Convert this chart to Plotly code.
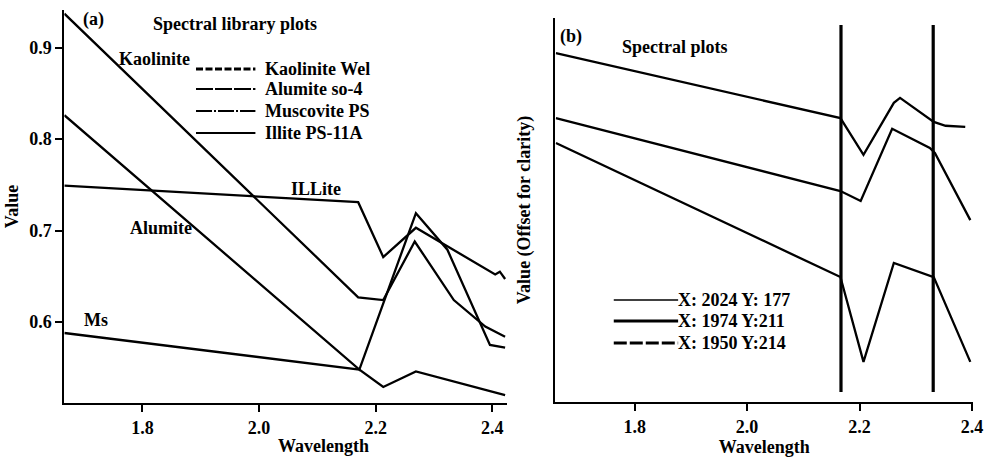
import plotly.graph_objects as go

# ---------------- Panel (a) data: spectral library ----------------
kaol_wl = [1.666, 2.170, 2.213, 2.267, 2.334, 2.388, 2.422]
kaol_val = [0.937, 0.627, 0.624, 0.688, 0.624, 0.595, 0.584]

alum_wl = [1.666, 2.172, 2.269, 2.323, 2.396, 2.422]
alum_val = [0.826, 0.548, 0.719, 0.679, 0.575, 0.572]

musc_wl = [1.666, 2.172, 2.213, 2.269, 2.422]
musc_val = [0.588, 0.548, 0.529, 0.546, 0.520]

illite_wl = [1.666, 2.170, 2.213, 2.269, 2.405, 2.413, 2.422]
illite_val = [0.749, 0.731, 0.671, 0.703, 0.652, 0.655, 0.647]

a_ticks = [1.8, 2.0, 2.2, 2.4]
a_yticks = [0.6, 0.7, 0.8, 0.9]
legend_a_names = ["Kaolinite Wel", "Alumite so-4", "Muscovite PS", "Illite PS-11A"]

# ---------------- Panel (b) data: image spectra (offset) ----------------
b_top_wl = [1.660, 2.166, 2.207, 2.261, 2.272, 2.332, 2.353, 2.388]
b_top_val = [0.913, 0.743, 0.647, 0.783, 0.796, 0.733, 0.723, 0.720]

b_mid_wl = [1.660, 2.166, 2.202, 2.258, 2.325, 2.334, 2.397]
b_mid_val = [0.743, 0.552, 0.526, 0.715, 0.665, 0.652, 0.476]

b_bot_wl = [1.660, 2.166, 2.207, 2.261, 2.332, 2.397]
b_bot_val = [0.678, 0.327, 0.105, 0.364, 0.327, 0.105]

marker_wl = [2.167, 2.331]
marker_lo = 0.026
marker_hi = 0.987

b_ticks = [1.8, 2.0, 2.2, 2.4]
legend_b_names = ["X: 2024 Y: 177", "X: 1974 Y:211", "X: 1950 Y:214"]

FONT = "Liberation Serif"
BLACK = "black"
FS = 18

fig = go.Figure()

# panel (a) curves
for wl, val in [(kaol_wl, kaol_val), (alum_wl, alum_val), (musc_wl, musc_val), (illite_wl, illite_val)]:
    fig.add_trace(go.Scatter(x=wl, y=val, mode="lines", line=dict(color=BLACK, width=2.3),
                             showlegend=False, xaxis="x", yaxis="y", hoverinfo="skip"))

# panel (b) curves
for wl, val in [(b_top_wl, b_top_val), (b_mid_wl, b_mid_val), (b_bot_wl, b_bot_val)]:
    fig.add_trace(go.Scatter(x=wl, y=val, mode="lines", line=dict(color=BLACK, width=2.3),
                             showlegend=False, xaxis="x2", yaxis="y2", hoverinfo="skip"))

# panel (b) vertical markers
for m in marker_wl:
    fig.add_trace(go.Scatter(x=[m, m], y=[marker_lo, marker_hi], mode="lines",
                             line=dict(color=BLACK, width=3.2), showlegend=False,
                             xaxis="x2", yaxis="y2", hoverinfo="skip"))

W, H = 995, 460
def px(x):
    return x / W
def py(y):
    return 1 - y / H

tickfont = dict(family=FONT, size=FS, color=BLACK, weight="bold")
axis_common = dict(showline=True, linecolor=BLACK, linewidth=2.2, ticks="outside",
                   ticklen=7, tickwidth=2, tickcolor=BLACK, showgrid=False,
                   zeroline=False, mirror=False, tickfont=tickfont)
title_font = dict(family=FONT, size=FS, color=BLACK, weight="bold")

fig.update_layout(
    width=W, height=H, autosize=False,
    margin=dict(l=0, r=0, t=0, b=0),
    paper_bgcolor="white", plot_bgcolor="white",
    font=dict(family=FONT, size=FS, color=BLACK),
    showlegend=False,
    xaxis=dict(domain=[px(65), px(512)], range=[1.666, 2.425], tickvals=a_ticks,
               ticktext=[f"{t:.1f}" for t in a_ticks], anchor="y", **axis_common),
    yaxis=dict(domain=[py(403), py(10)], range=[0.5115, 0.941], tickvals=a_yticks,
               ticktext=[f"{t:.1f}" for t in a_yticks], anchor="x",
               title=dict(text="Value", font=title_font, standoff=6),
               **axis_common),
    xaxis2=dict(domain=[px(561), px(983)], range=[1.659, 2.402], tickvals=b_ticks,
                ticktext=[f"{t:.1f}" for t in b_ticks], anchor="y2",
                title=dict(text="Wavelength", font=title_font, standoff=4),
                **axis_common),
    yaxis2=dict(domain=[py(402), py(18)], range=[0, 1.005], anchor="x2",
                showline=True, linecolor=BLACK, linewidth=2.2, ticks="", showticklabels=False,
                showgrid=False, zeroline=False,
                title=dict(text="Value (Offset for clarity)", font=title_font, standoff=18)),
)

ann_font = dict(family=FONT, size=FS, color=BLACK, weight="bold")
annotations = [
    ("(a)", 94, 20), ("Spectral library plots", 237, 24), ("Kaolinite", 156, 59),
    ("ILLite", 319, 189), ("Alumite", 163, 228), ("Ms", 97, 320),
    ("Wavelength", 327, 446),
    ("(b)", 577, 36), ("Spectral plots", 682, 47),
]
for text, x, y in annotations:
    fig.add_annotation(text=text, x=px(x), y=py(y), xref="paper", yref="paper",
                       showarrow=False, font=ann_font, xanchor="center", yanchor="middle")

# hand-drawn style legends (as in the reference)
legend_a_styles = [("7px,2.5px", 3), ("17px,2px", 1.8), ("16px,2px,2px,2px", 1.8), ("solid", 2)]
legend_a_rows = [69, 89, 111, 133]
for name, (dash, w), y in zip(legend_a_names, legend_a_styles, legend_a_rows):
    fig.add_shape(type="line", xref="paper", yref="paper", x0=px(198), x1=px(258),
                  y0=py(y), y1=py(y), line=dict(color=BLACK, width=w, dash=dash))
    fig.add_annotation(text=name, x=px(266), y=py(y), xref="paper", yref="paper",
                       showarrow=False, font=ann_font, xanchor="left", yanchor="middle")

legend_b_styles = [("solid", 1.6), ("solid", 3.2), ("13px,3px", 3.2)]
legend_b_rows = [300, 321, 343]
for name, (dash, w), y in zip(legend_b_names, legend_b_styles, legend_b_rows):
    fig.add_shape(type="line", xref="paper", yref="paper", x0=px(620), x1=px(685),
                  y0=py(y), y1=py(y), line=dict(color=BLACK, width=w, dash=dash))
    fig.add_annotation(text=name, x=px(683), y=py(y), xref="paper", yref="paper",
                       showarrow=False, font=ann_font, xanchor="left", yanchor="middle")

fig.write_html("out.html",
               config={"displayModeBar": False, "responsive": False},
               post_script="document.body.style.margin='0';document.body.style.padding='0';document.body.style.overflow='hidden';")
